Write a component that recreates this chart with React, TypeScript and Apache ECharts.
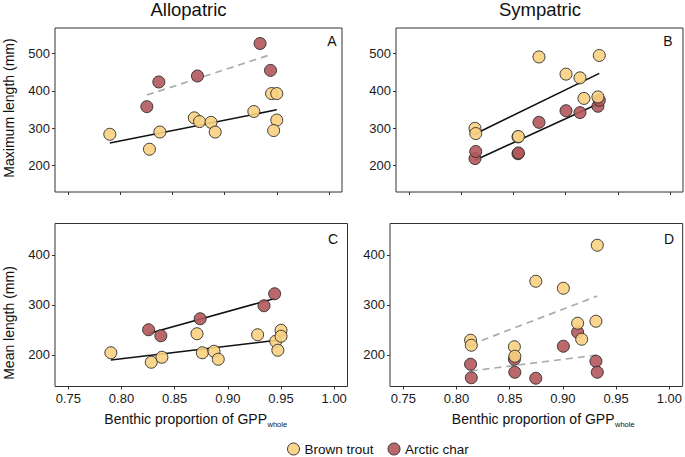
import React, { useEffect, useRef } from "react";
import * as echarts from "echarts";

// ---------- data ----------
const xTicks = [0.75, 0.8, 0.85, 0.9, 0.95, 1.0];
const yTicksMax = [200, 300, 400, 500];
const yTicksMean = [200, 300, 400];

// Allopatric – brown trout
const alloTroutX = [0.79, 0.828, 0.838, 0.871, 0.876, 0.887, 0.891, 0.928, 0.945, 0.95, 0.95, 0.947];
const alloTroutMax = [284, 244, 290, 328, 318, 316, 290, 345, 393, 393, 322, 294];
const alloTroutMean = [204, 185, 195, 242, 204, 207, 191, 240, 227, 249, 237, 209];
// Allopatric – arctic char
const alloCharX = [0.8255, 0.837, 0.874, 0.934, 0.944];
const alloCharMax = [358, 424, 440, 527, 455];
const alloCharMean = [250, 238, 272, 298, 322];

// Sympatric – brown trout
const symTroutX = [0.8132, 0.8139, 0.8544, 0.8548, 0.8745, 0.9004, 0.9138, 0.9176, 0.931, 0.9323];
const symTroutMax = [300, 286, 277, 278, 491, 445, 435, 380, 384, 495];
const symTroutMean = [229, 219, 216, 197, 347, 333, 263, 231, 267, 419];
// Sympatric – arctic char
const symCharX = [0.8132, 0.8139, 0.8544, 0.8548, 0.8745, 0.9004, 0.9138, 0.931, 0.9323];
const symCharMax = [219, 238, 232, 234, 316, 347, 342, 359, 375];
const symCharMean = [181, 154, 191, 165, 153, 217, 245, 187, 165];

// fitted lines (endpoints)
const fitAlloTroutMax = [[0.79, 260.5], [0.95, 349.5]];
const fitAlloCharMax = [[0.8255, 389], [0.944, 497]];
const fitSymTroutMax = [[0.8132, 285], [0.9323, 447]];
const fitSymCharMax = [[0.8132, 214.5], [0.9323, 367]];
const fitAlloTroutMean = [[0.79, 189.5], [0.95, 230]];
const fitAlloCharMean = [[0.8255, 242.5], [0.944, 312.5]];
const fitSymTroutMean = [[0.8132, 220], [0.9323, 317.5]];
const fitSymCharMean = [[0.8132, 167.5], [0.9323, 199.5]];

// ---------- style ----------
const FONT = "'Liberation Sans', Arial, Helvetica, sans-serif";
const TROUT = "#F8D082";
const CHAR = "#B3585C";
const EDGE = "#2a2a2a";

const zip = (xs: number[], ys: number[]) => xs.map((x, i) => [x, ys[i]]);

export default function App() {
  const ref = useRef<HTMLDivElement>(null);
  useEffect(() => {
    document.body.style.margin = "0";
    const chart = echarts.init(ref.current!, undefined, { renderer: "svg" });

    const grids = [
      { left: 55, top: 28, width: 287, height: 164 },
      { left: 396, top: 28, width: 287, height: 164 },
      { left: 55, top: 223.5, width: 292.5, height: 163 },
      { left: 390, top: 223.5, width: 294, height: 163 },
    ].map((g) => ({ ...g, show: true, borderColor: "#333", borderWidth: 1, backgroundColor: "transparent" }));

    const xAxis = [0, 1, 2, 3].map((i) => ({
      gridIndex: i,
      type: "value",
      min: 0.7375,
      max: 1.0125,
      axisLine: { show: false },
      splitLine: { show: false },
      axisTick: { show: true, customValues: xTicks, length: 3, lineStyle: { color: "#333" } },
      axisLabel: {
        show: i >= 2,
        customValues: xTicks,
        formatter: (v: number) => v.toFixed(2),
        margin: 5,
        fontSize: 13,
        color: "#1a1a1a",
        fontFamily: FONT,
      },
    }));

    const yAxis = [0, 1, 2, 3].map((i) => {
      const top = i < 2;
      const ticks = top ? yTicksMax : yTicksMean;
      return {
        gridIndex: i,
        type: "value",
        min: top ? 129.5 : 136.5,
        max: top ? 568.5 : 462.5,
        axisLine: { show: false },
        splitLine: { show: false },
        axisTick: { show: true, customValues: ticks, length: 3, lineStyle: { color: "#333" } },
        axisLabel: {
          show: true,
          customValues: ticks,
          margin: 5,
          fontSize: 13,
          color: "#1a1a1a",
          fontFamily: FONT,
        },
      };
    });

    const scatter = (name: string, idx: number, data: number[][], color: string) => ({
      name,
      type: "scatter",
      xAxisIndex: idx,
      yAxisIndex: idx,
      data,
      symbol: "circle",
      symbolSize: 12,
      z: 3,
      itemStyle: { color, opacity: 0.9, borderColor: EDGE, borderWidth: 1 },
    });

    const fit = (idx: number, data: number[][], dashed: boolean) => ({
      name: "fit" + idx + (dashed ? "d" : "s") + data[0][1],
      type: "line",
      xAxisIndex: idx,
      yAxisIndex: idx,
      data,
      symbol: "none",
      z: 2,
      silent: true,
      lineStyle: dashed
        ? { color: "#ababab", width: 1.7, type: [7, 5] }
        : { color: "#111", width: 1.6, type: "solid" },
    });

    const series = [
      fit(0, fitAlloTroutMax, false),
      fit(0, fitAlloCharMax, true),
      fit(1, fitSymTroutMax, false),
      fit(1, fitSymCharMax, false),
      fit(2, fitAlloTroutMean, false),
      fit(2, fitAlloCharMean, false),
      fit(3, fitSymTroutMean, true),
      fit(3, fitSymCharMean, true),
      scatter("Arctic char", 0, zip(alloCharX, alloCharMax), CHAR),
      scatter("Brown trout", 0, zip(alloTroutX, alloTroutMax), TROUT),
      scatter("Arctic char", 1, zip(symCharX, symCharMax), CHAR),
      scatter("Brown trout", 1, zip(symTroutX, symTroutMax), TROUT),
      scatter("Arctic char", 2, zip(alloCharX, alloCharMean), CHAR),
      scatter("Brown trout", 2, zip(alloTroutX, alloTroutMean), TROUT),
      scatter("Arctic char", 3, zip(symCharX, symCharMean), CHAR),
      scatter("Brown trout", 3, zip(symTroutX, symTroutMean), TROUT),
    ];

    const txt = (text: string, x: number, y: number, size: number, align = "center", rotation = 0) => ({
      type: "text",
      x,
      y,
      rotation,
      silent: true,
      style: {
        text,
        fontSize: size,
        fontFamily: FONT,
        fill: "#111",
        align,
        verticalAlign: "middle",
      },
    });

    const graphic = [
      txt("Allopatric", 188.5, 9.5, 18.5),
      txt("Sympatric", 540, 9.5, 18.5),
      txt("Maximum length (mm)", 9, 108, 14, "center", Math.PI / 2),
      txt("Mean length (mm)", 9, 323, 14, "center", Math.PI / 2),
      txt("A", 332, 41, 14),
      txt("B", 668, 41, 14),
      txt("C", 333, 239, 14),
      txt("D", 669, 239, 14),
      txt("Benthic proportion of GPP", 267, 418.5, 14, "right"),
      txt("whole", 267.5, 424, 7.5, "left"),
      txt("Benthic proportion of GPP", 614.5, 418.5, 14, "right"),
      txt("whole", 615, 424, 7.5, "left"),
    ];

    chart.setOption({
      animation: false,
      backgroundColor: "#fff",
      textStyle: { fontFamily: FONT },
      grid: grids,
      xAxis,
      yAxis,
      series,
      graphic,
      legend: {
        data: [
          { name: "Brown trout", itemStyle: { color: TROUT, borderColor: EDGE, borderWidth: 1 } },
          { name: "Arctic char", itemStyle: { color: CHAR, borderColor: EDGE, borderWidth: 1 } },
        ],
        left: 284,
        top: 439,
        padding: [3, 3, 3, 3],
        icon: "circle",
        itemWidth: 12,
        itemHeight: 12,
        itemGap: 14,
        selectedMode: false,
        textStyle: { fontSize: 13.5, color: "#111", fontFamily: FONT },
      },
    });
    return () => chart.dispose();
  }, []);
  return <div ref={ref} style={{ width: 685, height: 457 }} />;
}
